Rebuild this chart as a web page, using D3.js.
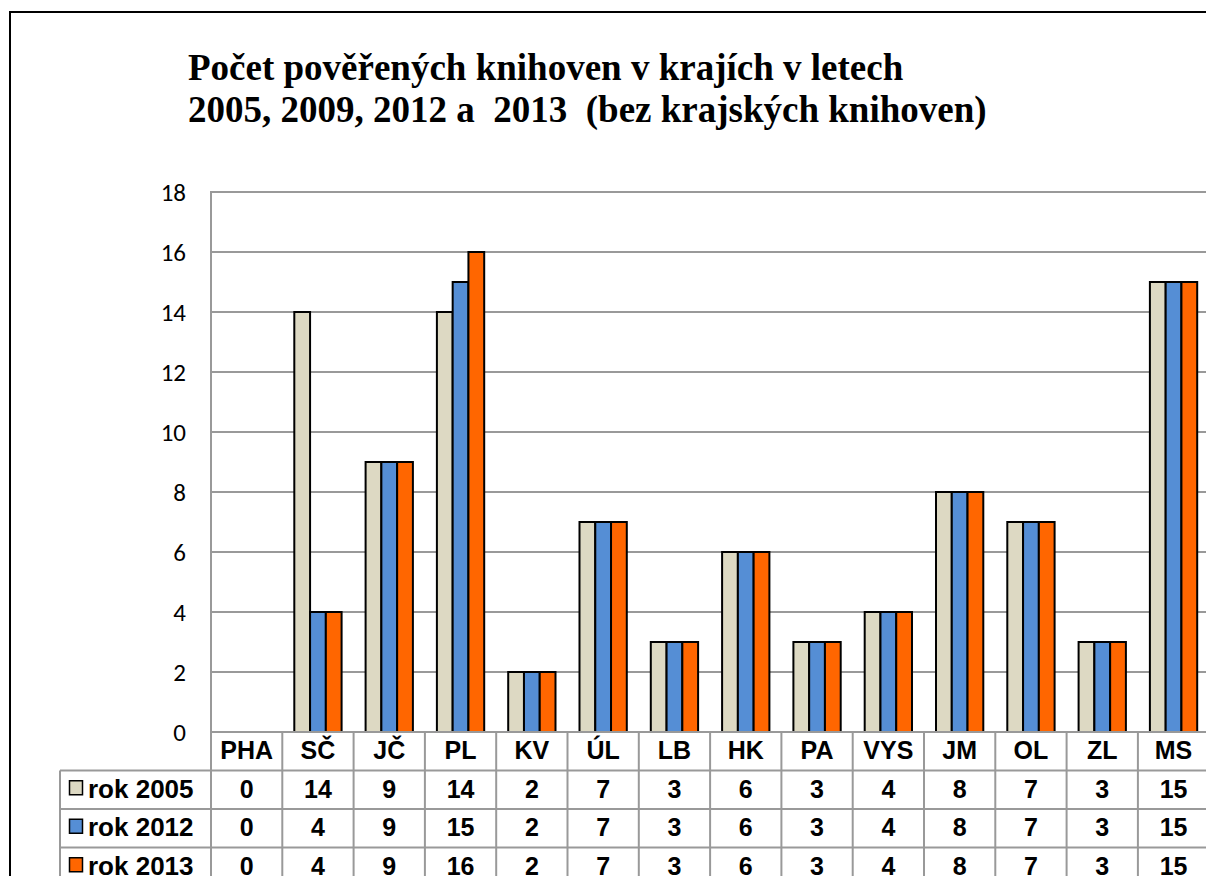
<!DOCTYPE html>
<html><head><meta charset="utf-8">
<script src="https://cdn.jsdelivr.net/npm/d3@7"></script>
<style>html,body{margin:0;padding:0;background:#fff;overflow:hidden}</style>
</head><body>
<script>
const categories = ["PHA","SČ","JČ","PL","KV","ÚL","LB","HK","PA","VYS","JM","OL","ZL","MS"];
const seriesNames = ["rok 2005","rok 2012","rok 2013"];
const values2005 = [0,14,9,14,2,7,3,6,3,4,8,7,3,15];
const values2012 = [0,4,9,15,2,7,3,6,3,4,8,7,3,15];
const values2013 = [0,4,9,16,2,7,3,6,3,4,8,7,3,15];
const yTicks = [0,2,4,6,8,10,12,14,16,18];
const colors = ["#DDD9C3","#558ED5","#FF6600"];
const series = [values2005, values2012, values2013];

(function(){
const W = 1206, H = 876;
const svg = d3.select("body").append("svg").attr("width", W).attr("height", H);
svg.append("rect").attr("width", W).attr("height", H).attr("fill", "#fff");
svg.append("rect").attr("x", 10).attr("y", 12).attr("width", 1300).attr("height", 1000)
  .attr("fill", "none").attr("stroke", "#000").attr("stroke-width", 2);

const title = svg.append("text").attr("font-family", "Liberation Serif, Times New Roman, serif")
  .attr("font-weight", "bold").attr("font-size", 37).attr("fill", "#000").attr("style", "white-space:pre");
title.append("tspan").attr("x", 188).attr("y", 80).text("Počet pověřených knihoven v krajích v letech");
title.append("tspan").attr("x", 188).attr("y", 122).text("2005, 2009, 2012 a  2013  (bez krajských knihoven)");

const pLeft = 211, pTop = 192, pBottom = 732;
const catW = 71.3;
const pRight = pLeft + catW * categories.length;
const x = d3.scaleBand().domain(categories).range([pLeft, pRight]);
const y = d3.scaleLinear().domain([0, 18]).range([pBottom, pTop]);
const inner = d3.scaleBand().domain(d3.range(3)).range([12, catW - 12]);

const yAxis = d3.axisLeft(y).tickValues(yTicks).tickSize(0).tickPadding(0);
const gAx = svg.append("g").attr("transform", `translate(${pLeft},0)`).call(yAxis);
gAx.select(".domain").remove();
gAx.selectAll("text").attr("x", -25).attr("dy", "0.35em").attr("font-family", "Carlito, Open Sans, Liberation Sans, sans-serif")
  .attr("font-size", 25).attr("fill", "#000").attr("text-anchor", "end");
svg.append("g").selectAll("line").data(yTicks.filter(d => d > 0)).join("line")
  .attr("x1", pLeft).attr("x2", pRight).attr("y1", d => y(d)).attr("y2", d => y(d))
  .attr("stroke", "#999").attr("stroke-width", 2);
svg.append("line").attr("x1", pLeft).attr("x2", pLeft).attr("y1", pTop - 1).attr("y2", pBottom)
  .attr("stroke", "#999").attr("stroke-width", 2);

series.forEach((vals, si) => {
  svg.append("g").selectAll("rect").data(vals.map((v, i) => ({c: categories[i], v})).filter(d => d.v > 0)).join("rect")
    .attr("x", d => x(d.c) + inner(si)).attr("width", inner.bandwidth())
    .attr("y", d => y(d.v)).attr("height", d => pBottom - y(d.v))
    .attr("fill", colors[si]).attr("stroke", "#000").attr("stroke-width", 2);
});

const rowH = 38.5;
const tLeft = 60;
const tf = "Liberation Sans, Arial, sans-serif";
const fs = 25;
const tg = svg.append("g");
tg.append("line").attr("x1", pLeft).attr("x2", pRight).attr("y1", pBottom).attr("y2", pBottom).attr("stroke", "#999").attr("stroke-width", 2);
for (let r = 1; r <= 4; r++) {
  tg.append("line").attr("x1", tLeft).attr("x2", pRight).attr("y1", pBottom + r * rowH).attr("y2", pBottom + r * rowH)
    .attr("stroke", "#999").attr("stroke-width", 2);
}
tg.selectAll("line.v").data(d3.range(categories.length + 1)).join("line").attr("class", "v")
  .attr("x1", i => pLeft + i * catW).attr("x2", i => pLeft + i * catW)
  .attr("y1", pBottom).attr("y2", H + 10).attr("stroke", "#999").attr("stroke-width", 2);
tg.append("line").attr("x1", tLeft).attr("x2", tLeft).attr("y1", pBottom + rowH).attr("y2", H + 10)
  .attr("stroke", "#999").attr("stroke-width", 2);
tg.selectAll("text.h").data(categories).join("text").attr("class", "h")
  .attr("x", d => x(d) + catW / 2).attr("y", pBottom + rowH / 2 + 8)
  .attr("text-anchor", "middle").attr("font-family", tf).attr("font-weight", "bold").attr("font-size", fs)
  .text(d => d);
series.forEach((vals, si) => {
  const ry = pBottom + rowH * (si + 1);
  tg.append("rect").attr("x", 69.5).attr("y", ry + rowH / 2 - 9).attr("width", 13).attr("height", 14)
    .attr("fill", colors[si]).attr("stroke", "#000").attr("stroke-width", 1.5);
  tg.append("text").attr("x", 88).attr("y", ry + rowH / 2 + 8).attr("font-family", tf)
    .attr("font-weight", "bold").attr("font-size", 26).text(seriesNames[si]);
  tg.append("g").selectAll("text").data(vals).join("text")
    .attr("x", (d, i) => x(categories[i]) + catW / 2).attr("y", ry + rowH / 2 + 8)
    .attr("text-anchor", "middle").attr("font-family", tf).attr("font-weight", "bold").attr("font-size", fs)
    .text(d => d);
});
})();
</script>
</body></html>
